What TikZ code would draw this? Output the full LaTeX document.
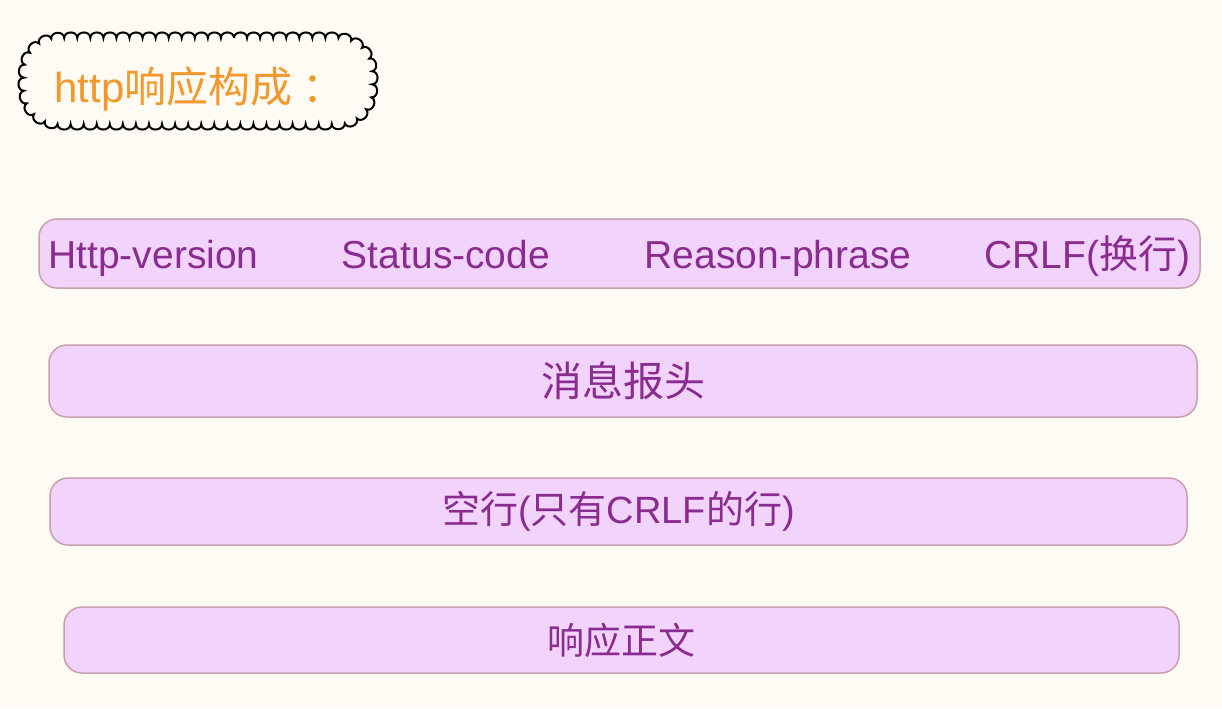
\documentclass[tikz,border=0pt]{standalone}
\usepackage{fontspec}
\setmainfont{Liberation Sans}
\newfontfamily\cjk{Noto Sans CJK SC}
\usepackage{tikz}
\usetikzlibrary{positioning, decorations.markings}
\usepackage{xcolor}
\definecolor{paper}{RGB}{253,251,244}
\definecolor{barFill}{RGB}{241,211,251}
\definecolor{barLine}{RGB}{201,160,174}
\definecolor{barText}{RGB}{138,43,143}
\definecolor{titleText}{RGB}{242,152,44}

\begin{document}
\begin{tikzpicture}[
      x=0.5pt, y=-0.5pt,
      bar/.style={draw=barLine, fill=barFill, line width=0.75pt, rounded corners=9pt, inner sep=0pt, text=barText},
      field/.style={text=barText, inner sep=0pt, anchor=base, font=\fontsize{19.5pt}{23pt}\selectfont},
      bump/.style={bend left=90, looseness=1.45}
    ]

    % Background
    \fill[paper] (0,0) rectangle (1222,708);

    % Title
    \path[rounded corners=17pt, decoration={markings,
        mark=between positions 0 and 1 step 1/62 with {\coordinate (b\pgfkeysvalueof{/pgf/decoration/mark info/sequence number});}},
        decorate] (200,38) -- (372,38) -- (372,124) -- (24,124) -- (24,38) -- cycle;
    \draw[line width=1pt, fill=paper] (b1) foreach \i in {2,...,62} { to[bump] (b\i) } to[bump] (b1);
    \node[text=titleText, inner sep=0pt, anchor=base west, font=\fontsize{21pt}{25pt}\selectfont] (title) at (54,102) {http{\cjk 响应构成}\hspace{5pt}{\cjk ：}};

    % Status line
    \node[bar, minimum width=580.5pt, minimum height=34.5pt] (statusLine) at (619.5,253.5) {};
    \node[field] (httpVersion) at (153.5,268) {Http-version};
    \node[field] (statusCode) at (446,268) {Status-code};
    \node[field] (reasonPhrase) at (778,268) {Reason-phrase};
    \node[field] (crlf) at (1087.5,268) {CRLF({\cjk 换行})};

    % Rows
    \node[bar, minimum width=574pt, minimum height=36pt, font=\fontsize{20.5pt}{24pt}\selectfont] (headers) at (623,381) {\cjk 消息报头};
    \node[bar, minimum width=568.5pt, minimum height=33.5pt, font=\fontsize{19pt}{23pt}\selectfont] (blankLine) at (618.5,511.5) {{\cjk 空行}({\cjk 只有}CRLF{\cjk 的行})};
    \node[bar, minimum width=557.5pt, minimum height=33pt, font=\fontsize{18.5pt}{22pt}\selectfont] (body) at (621.5,640) {\cjk 响应正文};

  \end{tikzpicture}
\end{document}
